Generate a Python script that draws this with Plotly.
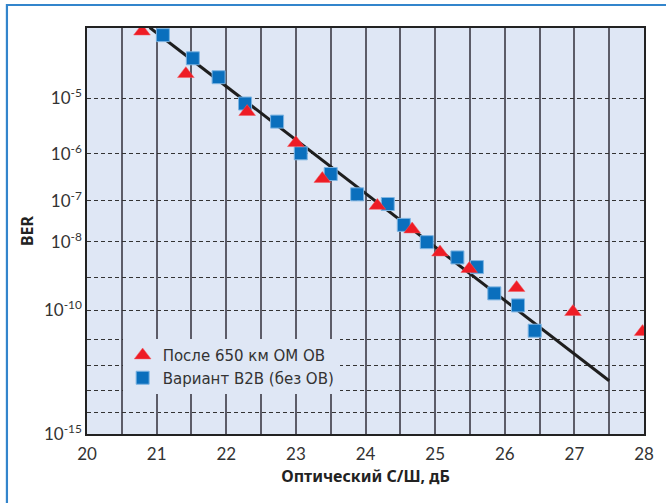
import math
import plotly.graph_objects as go

# ---- data ----
# x: optical SNR, dB ; y: log10(BER)
tri_name = "После 650 км ОМ ОВ"
tri_snr = [20.79, 21.42, 22.30, 23.00, 23.38, 24.17, 24.67, 25.07, 25.49, 26.17, 26.98, 27.98]
tri_logber = [-4.02, -4.62, -5.23, -5.79, -6.51, -7.11, -7.68, -8.28, -8.74, -9.30, -10.06, -10.74]

sq_name = "Вариант B2B (без ОВ)"
sq_snr = [21.09, 21.52, 21.89, 22.27, 22.73, 23.07, 23.50, 23.88, 24.32, 24.55, 24.88, 25.32, 25.60, 25.85, 26.19, 26.43]
sq_logber = [-4.07, -4.39, -4.67, -5.09, -5.40, -5.99, -6.41, -6.85, -7.07, -7.57, -8.01, -8.42, -8.69, -9.47, -9.85, -10.70]

fit_snr = [20.9, 27.5]
fit_logber = [-3.97, -12.6]

# labelled BER ticks (as -log10 BER) and unlabelled grid levels
y_tick_exp = [5, 6, 7, 8, 10, 15]
y_tick_text = ["10<sup>-5</sup>", "10<sup>-6</sup>", "10<sup>-7</sup>", "10<sup>-8</sup>",
               "10<sup>-10</sup>", "10<sup>-15</sup>"]
y_grid_exp = [9, 11, 12, 13, 14]
x_tick_vals = [20, 21, 22, 23, 24, 25, 26, 27, 28]
x_tick_text = ["20", "21", "22", "23", "24", "25", "26", "27", "28"]

x_title = "Оптический С/Ш, дБ"
y_title = "BER"

PLOT_BG = "#dfe7f5"

fig = go.Figure()
fig.add_trace(go.Scatter(
    x=fit_snr, y=[-v for v in fit_logber], mode="lines",
    line=dict(color="#1e1e1e", width=3), showlegend=False, hoverinfo="skip"))
fig.add_trace(go.Scatter(
    x=sq_snr, y=[-v for v in sq_logber], mode="markers", name=sq_name,
    marker=dict(symbol="square", size=13, color="#0a6fbd",
                line=dict(color="#7db4e2", width=1))))
fig.add_trace(go.Scatter(
    x=tri_snr, y=[-v for v in tri_logber], mode="markers", name=tri_name,
    marker=dict(symbol="triangle-up", size=14.5, color="#ee1c25",
                line=dict(color="#f25a60", width=0.5))))

fig.update_layout(
    width=666, height=503,
    margin=dict(l=87, r=19, t=28, b=69),
    paper_bgcolor="white", plot_bgcolor=PLOT_BG,
    font=dict(family="Lato, Noto Sans, sans-serif", color="#333333", size=17),
    legend=dict(
        x=0.064, y=0.234, xanchor="left", yanchor="top",
        bgcolor=PLOT_BG, borderwidth=0, traceorder="reversed",
        font=dict(family="DejaVu Sans", size=15, color="#333333"),
        itemclick=False, tracegroupgap=0),
    showlegend=True,
)

GRID_V = "#5c5c68"
fig.update_xaxes(
    range=[20, 28], tickmode="array", tickvals=x_tick_vals, ticktext=x_tick_text,
    showgrid=True, gridcolor=GRID_V, gridwidth=1.5,
    minor=dict(dtick=0.5, showgrid=True, gridcolor=GRID_V, gridwidth=1.5, ticks=""),
    showline=True, linecolor="#222222", linewidth=1.5, mirror=True,
    ticks="", zeroline=False, ticklabelstandoff=4,
    tickfont=dict(family="Lato, Noto Sans", size=17, color="#333333"),
    title=dict(text=x_title, font=dict(family="Noto Sans", size=16, color="#222222", weight="bold"),
               standoff=8),
)

fig.update_yaxes(
    type="log", range=[math.log10(15), math.log10(3.976)],
    tickmode="array", tickvals=y_tick_exp, ticktext=y_tick_text,
    showgrid=True, gridcolor="#333333", gridwidth=1, griddash="4px,3px",
    minor=dict(tickmode="array", tickvals=y_grid_exp, showgrid=True, gridcolor="#333333",
               gridwidth=1, griddash="4px,3px", ticks=""),
    showline=True, linecolor="#222222", linewidth=1.5, mirror=True,
    ticks="", zeroline=False,
    tickfont=dict(family="Lato, Noto Sans", size=17, color="#333333"),
    title=dict(text=y_title, font=dict(family="Noto Sans", size=16, color="#222222", weight="bold"),
               standoff=6),
)

# outer blue frame
fig.add_shape(type="rect", xref="paper", yref="paper",
              x0=(6.5 - 87) / 560, x1=(690 - 87) / 560,
              y0=(434 - 530) / 406, y1=(434 - 5) / 406,
              line=dict(color="#3385cc", width=2.2), fillcolor="rgba(0,0,0,0)", layer="below")

fig.write_html("out.html", config={"displayModeBar": False},
               post_script="document.body.style.margin='0';")
